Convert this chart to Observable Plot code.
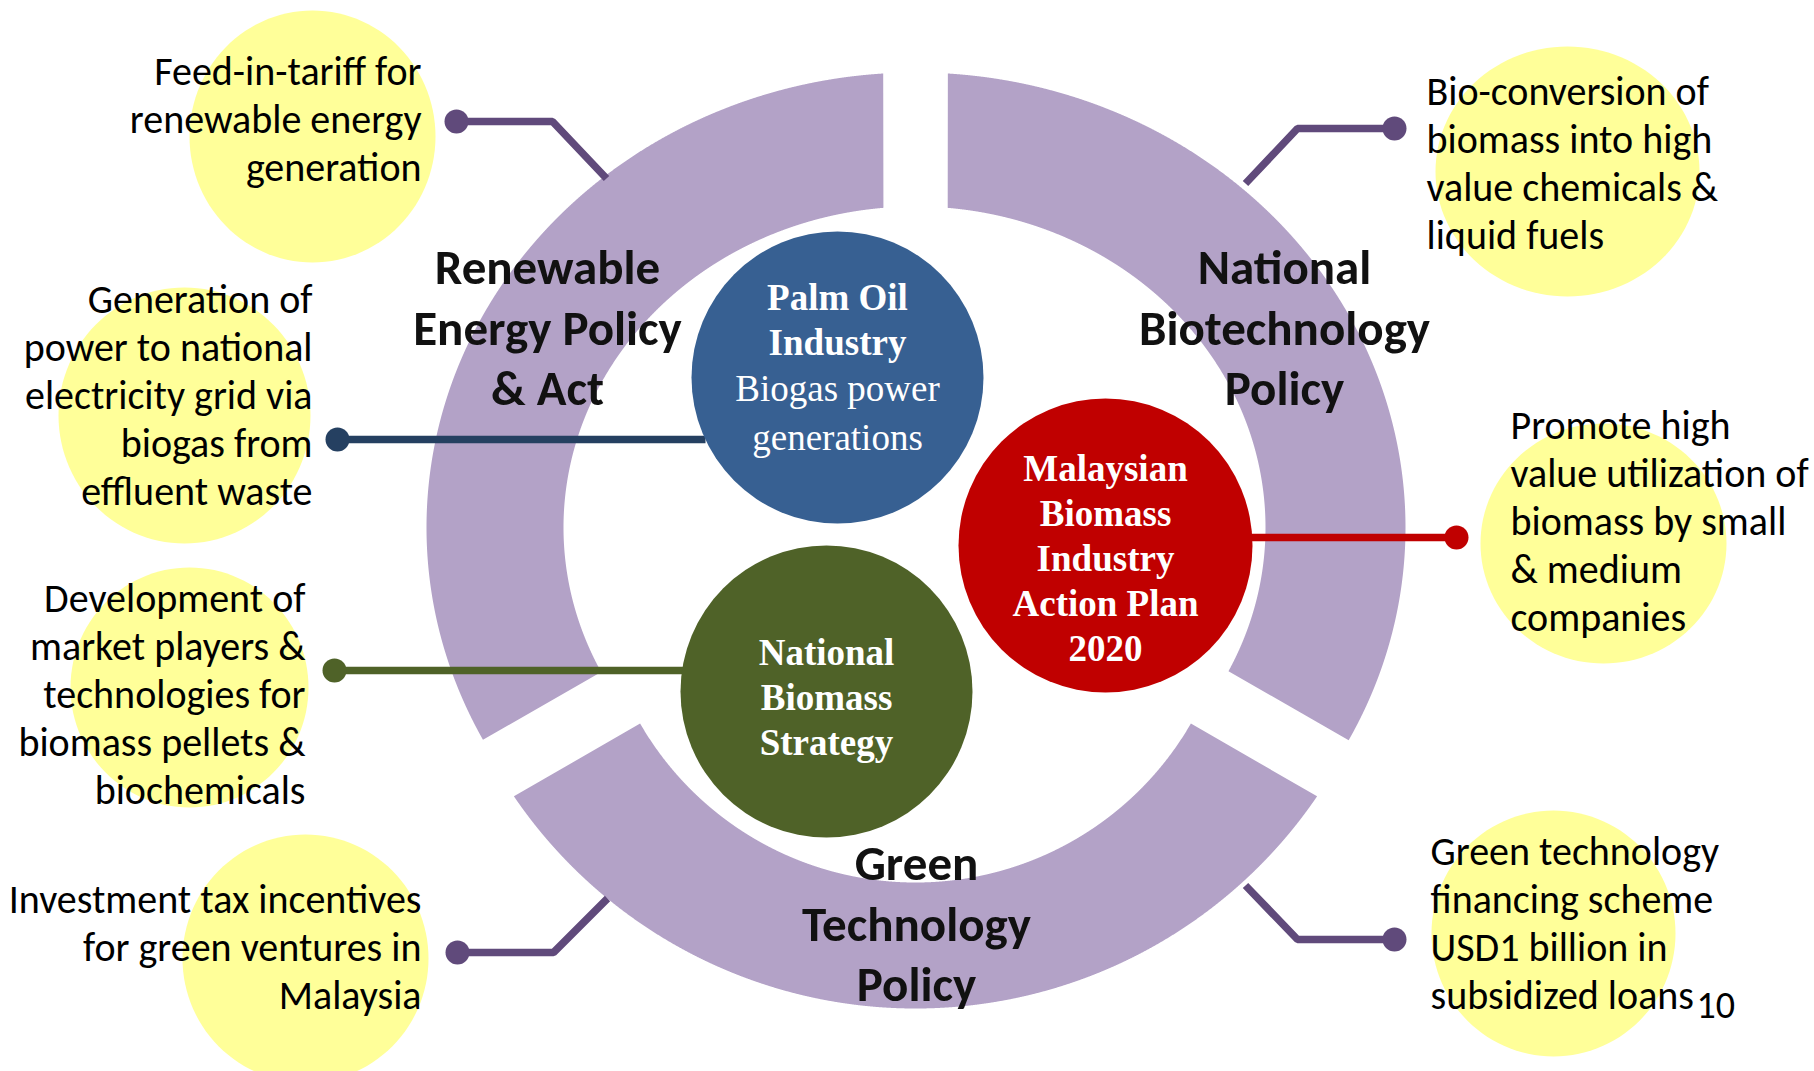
<!DOCTYPE html>
<html>
<head>
<meta charset="utf-8">
<script src="https://cdn.jsdelivr.net/npm/d3@7"></script>
<script src="https://cdn.jsdelivr.net/npm/@observablehq/plot@0.6"></script>
<style>
  html, body { margin: 0; padding: 0; background: #ffffff; overflow: hidden; }
  #chart svg { display: block; }
</style>
</head>
<body>
<div id="chart"></div>
<script>
// ---------------- DATA ----------------
const policies = ["Renewable\nEnergy Policy\n& Act", "National\nBiotechnology\nPolicy", "Green\nTechnology\nPolicy"];
const policyStartDeg = [240, 0, 120];   // ring segment start, clockwise from 12 o'clock
const policyEndDeg = [360, 120, 240];   // ring segment end

const programmeTitles = ["Palm Oil\nIndustry", "Malaysian\nBiomass\nIndustry\nAction Plan\n2020", "National\nBiomass\nStrategy"];
const programmeSubtitles = ["Biogas power\ngenerations", "", ""];

const leftCallouts = [
  "Feed-in-tariff for\nrenewable energy\ngeneration",
  "Generation of\npower to national\nelectricity grid via\nbiogas from\neffluent waste",
  "Development of\nmarket players &\ntechnologies for\nbiomass pellets &\nbiochemicals",
  "Investment tax incentives\nfor green ventures in\nMalaysia"
];
const rightCallouts = [
  "Bio-conversion of\nbiomass into high\nvalue chemicals &\nliquid fuels",
  "Promote high\nvalue utilization of\nbiomass by small\n& medium\ncompanies",
  "Green technology\nfinancing scheme\nUSD1 billion in\nsubsidized loans"
];
const pageNumber = ["10"];

// ---------------- LAYOUT & STYLE ----------------
const W = 1814, H = 1071;
const gapCentre = {x: 915, y: 527, halfGap: 32};
// outer / inner edge of each ring segment: [cx, cy, rx, ry]
const segmentShape = [
  {outer: [915, 527, 489, 455], inner: [915, 527, 352, 321]},
  {outer: [915, 527, 490, 455], inner: [915, 527, 350, 321]},
  {outer: [915, 525, 485, 483], inner: [915, 564, 318, 318]}
];
const ringColor = "#b3a2c7";
const bubbleColor = "#ffff99";
const policyLabelPos = [[547, 325], [1284, 325], [916, 921]];

const programmeLayout = [
  {cx: 837, cy: 377, r: 146, fill: "#376092", titleY: 318, subY: 409},
  {cx: 1105, cy: 545, r: 147, fill: "#c00000", titleY: 556, subY: 0},
  {cx: 826, cy: 691, r: 146, fill: "#4f6228", titleY: 695, subY: 0}
];

const leftLayout = [
  {x: 421, y: 117, bx: 312, by: 136, rx: 123, ry: 126},
  {x: 312, y: 393, bx: 184, by: 415, rx: 126, ry: 128},
  {x: 305, y: 692, bx: 189, by: 687, rx: 119, ry: 120},
  {x: 421, y: 945, bx: 305, by: 958, rx: 123, ry: 124}
];
const rightLayout = [
  {x: 1426, y: 161, bx: 1567, by: 171, rx: 132, ry: 125},
  {x: 1510, y: 519, bx: 1603, by: 543, rx: 123, ry: 120},
  {x: 1430, y: 921, bx: 1553, by: 933, rx: 122, ry: 123}
];

const connectorLayout = [
  {color: "#604a7b", pts: [[456, 121], [552, 121], [606, 178]]},
  {color: "#604a7b", pts: [[1394, 128], [1297, 128], [1245, 183]]},
  {color: "#604a7b", pts: [[457, 952], [553, 952], [607, 898]]},
  {color: "#604a7b", pts: [[1394, 939], [1297, 939], [1245, 885]]},
  {color: "#254061", pts: [[337, 439], [705, 439]]},
  {color: "#4f6228", pts: [[334, 670], [690, 670]]},
  {color: "#c00000", pts: [[1456, 537], [1250, 537]]}
];

// ---------------- BUILD GEOMETRY ----------------
const rad = Math.PI / 180;
const ringPts = [];
policies.forEach((p, i) => {
  const a0 = policyStartDeg[i] * rad, a1 = policyEndDeg[i] * rad;
  const n0 = [Math.cos(a0), Math.sin(a0)], n1 = [Math.cos(a1), Math.sin(a1)];
  const g = gapCentre;
  const inside = (x, y) => {
    const dx = x - g.x, dy = y - g.y;
    return dx * n0[0] + dy * n0[1] >= g.halfGap && dx * n1[0] + dy * n1[1] <= -g.halfGap;
  };
  const edge = ([cx, cy, rx, ry]) => {
    const pts = [];
    const steps = 3000;
    for (let k = 0; k <= steps; k++) {
      const t = a0 - 20 * rad + (a1 - a0 + 40 * rad) * k / steps;
      const x = cx + rx * Math.sin(t), y = cy - ry * Math.cos(t);
      if (inside(x, y)) pts.push({seg: p, x, y});
    }
    return pts;
  };
  const outer = edge(segmentShape[i].outer);
  const inner = edge(segmentShape[i].inner).reverse();
  ringPts.push(...outer, ...inner);
});

const callouts = [
  ...leftCallouts.map((t, i) => ({text: t, side: "left", ...leftLayout[i]})),
  ...rightCallouts.map((t, i) => ({text: t, side: "right", ...rightLayout[i]}))
];
const bubblePts = [];
callouts.forEach((c, i) => {
  const n = 120;
  for (let k = 0; k < n; k++) {
    const t = 2 * Math.PI * k / n;
    bubblePts.push({id: i, x: c.bx + c.rx * Math.cos(t), y: c.by + c.ry * Math.sin(t)});
  }
});

const connPts = [];
const connEnds = [];
connectorLayout.forEach((c, i) => {
  c.pts.forEach(([x, y]) => connPts.push({id: i, x, y, color: c.color}));
  connEnds.push({x: c.pts[0][0], y: c.pts[0][1], color: c.color});
});

const programmes = programmeTitles.map((t, i) => ({title: t, sub: programmeSubtitles[i], ...programmeLayout[i]}));
const policyLabels = policies.map((p, i) => ({text: p, x: policyLabelPos[i][0], y: policyLabelPos[i][1]}));

const sans = "Carlito, Calibri, 'Liberation Sans', Arial, sans-serif";
const serif = "'Liberation Serif', 'Times New Roman', serif";

// ---------------- PLOT ----------------
const chart = Plot.plot({
  width: W,
  height: H,
  margin: 0,
  x: {domain: [0, W], range: [0, W], axis: null},
  y: {domain: [0, H], range: [0, H], axis: null},
  r: {type: "identity"},
  color: {type: "identity"},
  style: {background: "#ffffff", overflow: "visible"},
  marks: [
    Plot.line(bubblePts, {x: "x", y: "y", z: "id", curve: "linear-closed", fill: bubbleColor, stroke: "none"}),
    Plot.line(ringPts, {x: "x", y: "y", z: "seg", curve: "linear-closed", fill: ringColor, stroke: "none"}),
    Plot.line(connPts, {x: "x", y: "y", z: "id", stroke: "color", strokeWidth: 7.5, strokeLinejoin: "miter", strokeLinecap: "butt"}),
    Plot.dot(connEnds, {x: "x", y: "y", r: 12, fill: "color", stroke: "none"}),
    Plot.dot(programmes, {x: "cx", y: "cy", r: "r", fill: "fill", stroke: "none"}),
    Plot.text(policyLabels, {x: "x", y: "y", text: "text", fontSize: 49, fontWeight: "bold",
      fontFamily: sans, lineHeight: 60.5 / 49, fill: "#111111", textAnchor: "middle"}),
    Plot.text(programmes, {x: "cx", y: "titleY", text: "title", fontSize: 37, fontWeight: "bold",
      fontFamily: serif, lineHeight: 45 / 37, fill: "#ffffff", textAnchor: "middle"}),
    Plot.text(programmes.filter(d => d.sub), {x: "cx", y: "subY", text: "sub", fontSize: 37,
      fontFamily: serif, lineHeight: 49 / 37, fill: "#ffffff", textAnchor: "middle"}),
    Plot.text(callouts.filter(d => d.side === "left"), {x: "x", y: "y", text: "text", fontSize: 40,
      fontFamily: sans, lineHeight: 48 / 40, fill: "#000000", textAnchor: "end"}),
    Plot.text(callouts.filter(d => d.side === "right"), {x: "x", y: "y", text: "text", fontSize: 40,
      fontFamily: sans, lineHeight: 48 / 40, fill: "#000000", textAnchor: "start"}),
    Plot.text(pageNumber, {x: () => 1696, y: () => 1005, text: d => d, fontSize: 38,
      fontFamily: sans, fill: "#000000", textAnchor: "start"})
  ]
});
document.getElementById("chart").appendChild(chart);
</script>
</body>
</html>
